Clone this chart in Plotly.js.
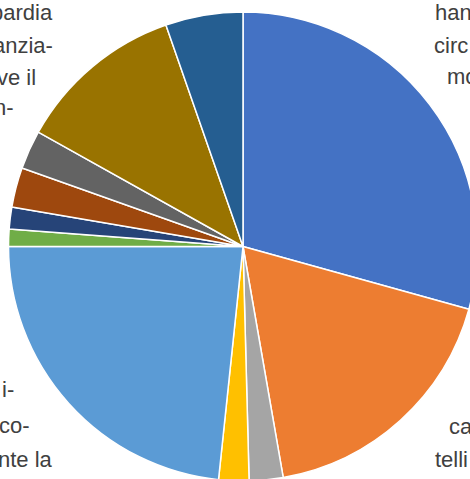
<!DOCTYPE html>
<html>
<head>
<meta charset="utf-8">
<script src="https://cdn.plot.ly/plotly-3.0.1.min.js"></script>
<style>
html,body{margin:0;padding:0;overflow:hidden;background:#fff;}
#chart{position:absolute;left:0;top:0;}
</style>
</head>
<body>
<div id="chart"></div>
<script>
// Slice values (share of the pie), clockwise from 12 o'clock
const labels = ["A","B","C","D","E","F","G","H","I","J","K"];
const values = [29.31, 17.94, 2.33, 2.08, 23.33, 1.19, 1.50, 2.75, 2.67, 11.56, 5.33];
const colors = ["#4472C4","#ED7D31","#A5A5A5","#FFC000","#5B9BD5","#70AD47","#264478","#9E480E","#636363","#997300","#255E91"];

// Cut-off text fragments around the chart
const leftTopLines = ["bardia","anzia-","ve il","n-"];
const leftBottomLines = ["i-","co-","nte la"];
const rightTopLines = ["han","circ","mo"];
const rightBottomLines = ["ca","telli"];

const W = 478, H = 482;
const cx = 243, cy = 246.5, r = 234.5;

function px(x){return x/W;}
function py(y){return 1 - y/H;}

const textFont = {family:"Liberation Sans, Arial, sans-serif", size:22, color:"#404040"};
const annotations = [];
function addLines(lines, xs, ys, anchor){
  lines.forEach((t,i)=>{
    annotations.push({xref:"paper", yref:"paper", x:px(xs[i]), y:py(ys[i]), text:t,
      showarrow:false, xanchor:anchor, yanchor:"middle", font:textFont, borderpad:0});
  });
}
addLines(leftTopLines, [54,54,37,15], [12,45,78,108], "right");
addLines(leftBottomLines, [15,31,54], [389,425,459], "right");
addLines(rightTopLines, [434,433,446], [12,45,76], "left");
addLines(rightBottomLines, [448,434], [426,459], "left");

const data = [{
  type:"pie",
  labels: labels,
  values: values,
  sort:false,
  direction:"clockwise",
  rotation:0,
  textinfo:"none",
  hoverinfo:"none",
  marker:{colors:colors, line:{color:"#ffffff", width:1.5}},
  domain:{x:[px(cx-r), px(cx+r)], y:[py(cy+r), py(cy-r)]}
}];

const layout = {
  width:W, height:H,
  margin:{l:0,r:0,t:0,b:0,pad:0},
  showlegend:false,
  paper_bgcolor:"#ffffff",
  annotations: annotations
};

Plotly.newPlot("chart", data, layout, {displayModeBar:false, staticPlot:true});
</script>
</body>
</html>
